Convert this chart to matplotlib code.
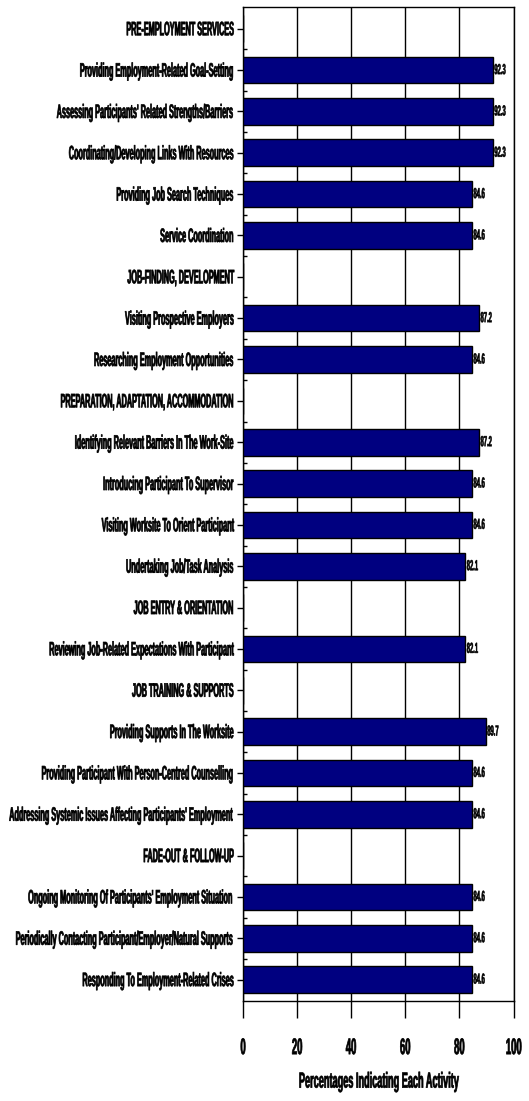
import numpy as np
import matplotlib
matplotlib.use("Agg")
import matplotlib.pyplot as plt
import matplotlib.patheffects as pe
from matplotlib.transforms import Affine2D
from matplotlib.ticker import FixedLocator

activities = [
    "PRE-EMPLOYMENT SERVICES",
    "Providing Employment-Related Goal-Setting",
    "Assessing Participants' Related Strengths/Barriers",
    "Coordinating/Developing Links With Resources",
    "Providing Job Search Techniques",
    "Service Coordination",
    "JOB-FINDING, DEVELOPMENT",
    "Visiting Prospective Employers",
    "Researching Employment Opportunities",
    "PREPARATION, ADAPTATION, ACCOMMODATION",
    "Identifying Relevant Barriers In The Work-Site",
    "Introducing Participant To Supervisor",
    "Visiting Worksite To Orient Participant",
    "Undertaking Job/Task Analysis",
    "JOB ENTRY & ORIENTATION",
    "Reviewing Job-Related Expectations With Participant",
    "JOB TRAINING & SUPPORTS",
    "Providing Supports In The Worksite",
    "Providing Participant With Person-Centred Counselling",
    "Addressing Systemic Issues Affecting Participants' Employment",
    "FADE-OUT & FOLLOW-UP",
    "Ongoing Monitoring Of Participants' Employment Situation",
    "Periodically Contacting Participant/Employer/Natural Supports",
    "Responding To Employment-Related Crises",
]
# nan = section heading, no bar
percent = [np.nan, 92.3, 92.3, 92.3, 84.6, 84.6,
           np.nan, 87.2, 84.6,
           np.nan, 87.2, 84.6, 84.6, 82.1,
           np.nan, 82.1,
           np.nan, 89.7, 84.6, 84.6,
           np.nan, 84.6, 84.6, 84.6]
xticks = [0, 20, 40, 60, 80, 100]


class Squeeze(pe.AbstractPathEffect):
    """Narrow the glyphs horizontally around one side and thicken the strokes."""

    def __init__(self, sx, anchor="center", lw=0.5):
        super().__init__()
        self.sx = sx
        self.anchor = anchor
        self.lw = lw

    def draw_path(self, renderer, gc, tpath, affine, rgbFace=None):
        ext = tpath.get_extents(affine)
        px = {"left": ext.x0, "right": ext.x1,
              "center": 0.5 * (ext.x0 + ext.x1)}[self.anchor]
        aff = affine + Affine2D().translate(-px, 0).scale(self.sx, 1).translate(px, 0)
        gc0 = renderer.new_gc()
        gc0.copy_properties(gc)
        gc0.set_linewidth(self.lw)
        gc0.set_foreground(rgbFace)
        gc0.set_joinstyle("round")
        renderer.draw_path(gc0, tpath, aff, rgbFace)
        gc0.restore()


plt.rcParams["font.family"] = ["Liberation Sans", "DejaVu Sans"]
plt.rcParams["font.weight"] = "bold"

fig = plt.figure(figsize=(5.29, 11.01), dpi=100)
ax = fig.add_axes([0.4594, 0.0911, 0.5113, 0.9023])

y = np.arange(len(activities))
vals = np.array(percent)
ax.barh(y, np.nan_to_num(vals), height=0.645, color="#000080",
        edgecolor="black", linewidth=1.0, zorder=3)

for yi, v in zip(y, vals):
    if np.isnan(v):
        continue
    ax.text(v + 0.5, yi, f"{v:.1f}", ha="left", va="center", fontsize=10.5,
            fontweight="bold", zorder=4,
            path_effects=[Squeeze(0.40, "left", 0.4)])

ax.set_xlim(0, 100)
ax.set_ylim(len(activities) - 0.49, -0.52)
ax.xaxis.set_major_locator(FixedLocator(xticks))
ax.set_xticklabels([str(t) for t in xticks])
ax.yaxis.set_major_locator(FixedLocator(y))
ax.set_yticklabels(activities)
ax.yaxis.set_minor_locator(FixedLocator(y[:-1] + 0.5))

ax.grid(axis="x", color="black", linewidth=1.0, zorder=0)
for s in ax.spines.values():
    s.set_color("black")
    s.set_linewidth(1.0)

ax.tick_params(axis="y", which="major", length=4, width=1, pad=2,
               labelsize=14, direction="out")
ax.tick_params(axis="y", which="minor", length=3, width=1, direction="in")
ax.tick_params(axis="x", length=12.5, width=1, pad=13, labelsize=16.3,
               direction="out")

for lab in ax.get_yticklabels():
    lab.set_fontweight("bold")
    lab.set_path_effects([Squeeze(0.375, "right", 0.5)])
for lab in ax.get_xticklabels():
    lab.set_fontweight("bold")
    lab.set_path_effects([Squeeze(0.42, "center", 0.5)])

ax.set_xlabel("Percentages Indicating Each Activity", fontsize=15.7,
              fontweight="bold", labelpad=9,
              path_effects=[Squeeze(0.42, "center", 0.5)])

fig.savefig("out.png", dpi=100)
